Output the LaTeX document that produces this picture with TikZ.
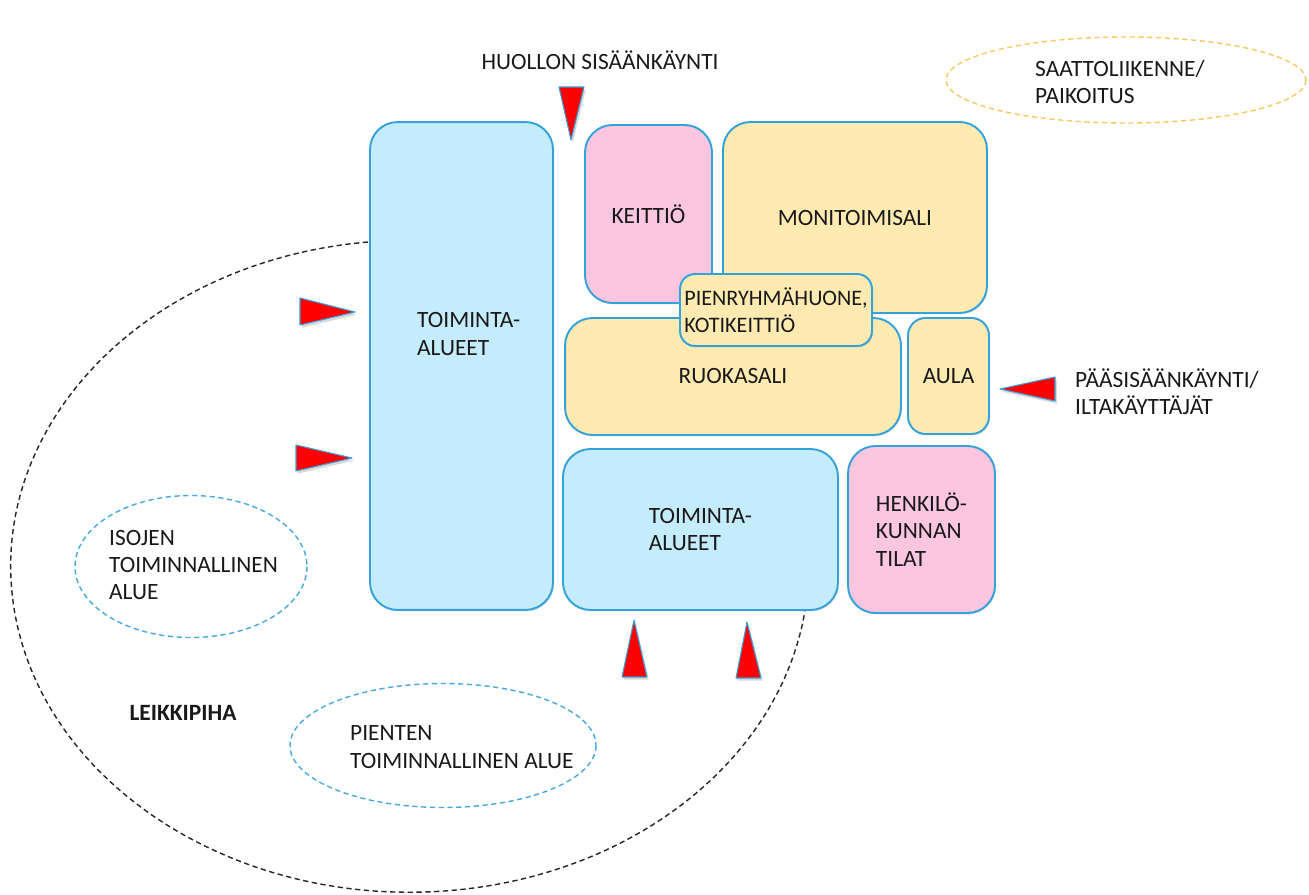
\documentclass[tikz,border=0pt]{standalone}
\usepackage{fontspec}
\setmainfont{Carlito}
\usetikzlibrary{shadows}

\begin{document}
\begin{tikzpicture}[x=0.02cm, y=-0.02cm,
  every node/.style={font=\fontsize{13.3}{15.6}\selectfont, text=black!90, align=left},
  box/.style={draw=boxline, line width=1.1pt, rounded corners=0.55cm,
    drop shadow={opacity=0.25, shadow xshift=0.6pt, shadow yshift=-0.8pt}},
  bluebox/.style={box, fill=boxblue},
  pinkbox/.style={box, fill=boxpink},
  yellowbox/.style={box, fill=boxyellow},
  entry/.style={fill=red, draw=boxline, line width=0.6pt, line join=round,
    drop shadow={opacity=0.3, shadow xshift=1pt, shadow yshift=-1.5pt}},
  zone/.style={dashed, line width=0.8pt, dash pattern=on 3pt off 2pt}]

\definecolor{boxblue}{RGB}{197,236,252}
\definecolor{boxpink}{RGB}{252,198,225}
\definecolor{boxyellow}{RGB}{255,235,178}
\definecolor{boxline}{RGB}{52,162,218}
\definecolor{zoneorange}{RGB}{250,200,95}
\definecolor{zoneblue}{RGB}{70,170,225}

\useasboundingbox (0,0) rectangle (1309,895);

% LEIKKIPIHA
\draw [zone, black!85] (368,242) arc [start angle=264, end angle=8, x radius=399, y radius=326];
\node [font=\fontsize{13.3}{15.6}\selectfont\bfseries] (leikkipiha) at (183,713) {LEIKKIPIHA};

% TOIMINNALLISET ALUEET
\draw [zone, zoneblue] (191,566.5) ellipse [x radius=116, y radius=71];
\node [anchor=west] (isojen) at (103,565) {ISOJEN\\TOIMINNALLINEN\\ALUE};
\draw [zone, zoneblue] (443,745.5) ellipse [x radius=153, y radius=62];
\node [anchor=west] (pienten) at (344,747) {PIENTEN\\TOIMINNALLINEN ALUE};

% SAATTOLIIKENNE
\draw [zone, zoneorange] (1126,80) ellipse [x radius=180, y radius=43];
\node [anchor=west] (saatto) at (1029,82) {SAATTOLIIKENNE/\\PAIKOITUS};

% TILAT
\node [bluebox, minimum width=3.66cm, minimum height=9.76cm] (toiminta1) at (461.5,366) {};
\node [anchor=west] (toiminta1txt) at (411,334) {TOIMINTA-\\ALUEET};
\node [pinkbox, minimum width=2.54cm, minimum height=3.56cm] (keittio) at (648.5,214) {KEITTIÖ};
\node [yellowbox, minimum width=5.28cm, minimum height=3.82cm] (monitoimi) at (855,217.5) {MONITOIMISALI};
\node [yellowbox, minimum width=6.72cm, minimum height=2.34cm] (ruokasali) at (733,376.5) {RUOKASALI};
\node [yellowbox, rounded corners=0.3cm, minimum width=3.84cm, minimum height=1.44cm,
  inner sep=1pt, font=\fontsize{12.6}{15.6}\selectfont] (pienryhma) at (776,310) {PIENRYHMÄHUONE,\\KOTIKEITTIÖ};
\node [yellowbox, rounded corners=0.35cm, minimum width=1.62cm, minimum height=2.32cm] (aula) at (948.5,376) {AULA};
\node [bluebox, minimum width=5.5cm, minimum height=3.22cm] (toiminta2) at (700.5,529.5) {TOIMINTA-\\ALUEET};
\node [pinkbox, minimum width=2.94cm, minimum height=3.34cm] (henkilo) at (921.5,529.5) {HENKILÖ-\\KUNNAN\\TILAT};

% SISAANKAYNNIT
\node (huolto) at (600,60) {HUOLLON SISÄÄNKÄYNTI};
\node [anchor=west] (paasis) at (1069,392) {PÄÄSISÄÄNKÄYNTI/\\ILTAKÄYTTÄJÄT};
\filldraw [entry] (559,87) -- (584,87) -- (571,140) -- cycle;
\filldraw [entry] (300,298) -- (355,312) -- (300,325) -- cycle;
\filldraw [entry] (296,445) -- (352,458) -- (296,471) -- cycle;
\filldraw [entry] (622,677) -- (634,620) -- (647,677) -- cycle;
\filldraw [entry] (736,678) -- (747,622) -- (761,678) -- cycle;
\filldraw [entry] (1055,377) -- (1000,389) -- (1055,401) -- cycle;

\end{tikzpicture}
\end{document}
